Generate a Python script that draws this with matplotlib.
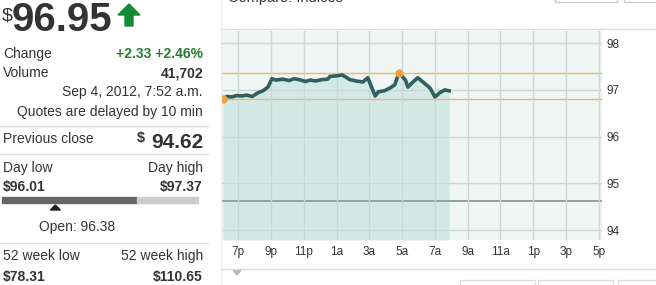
import matplotlib.pyplot as plt
from matplotlib.patches import Polygon, Rectangle
from matplotlib.lines import Line2D
import numpy as np

plt.rcParams['font.family'] = ['Liberation Sans', 'DejaVu Sans']

# quote panel values
last_price = 96.95
change = '+2.33'
change_pct = '+2.46%'
volume = '41,702'
stamp = 'Sep 4, 2012, 7:52 a.m.'
prev_close = 94.62
day_low = 96.01
day_high = 97.37
open_price = 96.38
wk52_low = 78.31
wk52_high = 110.65

# intraday series: hours after midnight Sep 3 (18 = 6p)
times = [18.05, 18.3, 18.6, 18.9, 19.2, 19.5, 19.85, 20.2, 20.5, 20.8, 21.05,
         21.3, 21.7, 22.1, 22.4, 22.7, 23.1, 23.4, 23.7, 24.1, 24.45, 24.6,
         25.0, 25.35, 25.8, 26.2, 26.6, 26.9, 27.35, 27.55, 27.9, 28.25,
         28.55, 28.8, 29.2, 29.35, 29.6, 29.95, 30.2, 30.7, 31.0, 31.3,
         31.6, 31.87]
prices = [96.81, 96.86, 96.85, 96.88, 96.87, 96.89, 96.86, 96.94, 96.98,
          97.06, 97.24, 97.21, 97.23, 97.20, 97.24, 97.22, 97.18, 97.21,
          97.19, 97.22, 97.23, 97.29, 97.30, 97.32, 97.22, 97.19, 97.17,
          97.26, 96.87, 96.96, 96.98, 97.04, 97.11, 97.37, 97.21, 97.06,
          97.15, 97.26, 97.19, 97.04, 96.85, 96.94, 97.00, 96.98]
tick_hours = [19, 21, 23, 25, 27, 29, 31, 33, 35, 37, 39, 41]
tick_labels = ['7p', '9p', '11p', '1a', '3a', '5a', '7a', '9a', '11a', '1p', '3p', '5p']
y_ticks = [94, 95, 96, 97, 98]

W, H = 656, 285
fig = plt.figure(figsize=(W / 100, H / 100), dpi=100)

def fx(px):
    return px / W

def fy(py):
    return 1 - py / H

dark = '#333333'
green = '#2a7d2e'

# ---- left quote panel
fig.text(fx(2), fy(20), '$', fontsize=14, color=dark)
fig.text(fx(12), fy(31), f'{last_price:.2f}', fontsize=29, fontweight='bold', color=dark)
fig.patches.append(Polygon([(fx(129), fy(4)), (fx(140), fy(15)), (fx(133), fy(15)),
                            (fx(133), fy(26)), (fx(125), fy(26)), (fx(125), fy(15)),
                            (fx(118), fy(15))], closed=True, transform=fig.transFigure,
                           color='#138a36'))

fig.text(fx(3), fy(58), 'Change', fontsize=10, color=dark)
fig.text(fx(203), fy(58), f'{change} {change_pct}', fontsize=10, fontweight='bold',
         color=green, ha='right')
fig.text(fx(3), fy(77), 'Volume', fontsize=10, color=dark)
fig.text(fx(203), fy(77), volume, fontsize=10, fontweight='bold', color=dark, ha='right')
fig.text(fx(203), fy(96.5), stamp, fontsize=10, color=dark, ha='right')
fig.text(fx(203), fy(116.5), 'Quotes are delayed by 10 min', fontsize=10, color=dark, ha='right')

for yy in [126, 154, 243]:
    fig.lines.append(Line2D([fx(0), fx(208)], [fy(yy), fy(yy)], transform=fig.transFigure,
                            color='#dddddd', lw=1))

fig.text(fx(3), fy(143), 'Previous close', fontsize=10, color=dark)
fig.text(fx(203), fy(148), f'{prev_close:.2f}', fontsize=15, fontweight='bold', color=dark, ha='right')
fig.text(fx(137), fy(142), '$', fontsize=10.5, fontweight='bold', color=dark)

fig.text(fx(3), fy(172), 'Day low', fontsize=10, color=dark)
fig.text(fx(203), fy(172), 'Day high', fontsize=10, color=dark, ha='right')
fig.text(fx(3), fy(191), f'${day_low:.2f}', fontsize=10, fontweight='bold', color=dark)
fig.text(fx(203), fy(191), f'${day_high:.2f}', fontsize=10, fontweight='bold', color=dark, ha='right')

bar_l, bar_r = 2, 198
frac = (last_price - day_low) / (day_high - day_low)
ofrac = (open_price - day_low) / (day_high - day_low)
bx = bar_l + frac * (bar_r - bar_l)
fig.patches.append(Rectangle((fx(bar_l), fy(203)), fx(bx - bar_l), 6 / H,
                             transform=fig.transFigure, color='#666666'))
fig.patches.append(Rectangle((fx(bx), fy(203)), fx(bar_r - bx), 6 / H,
                             transform=fig.transFigure, color='#cccccc'))
ox = bar_l + ofrac * (bar_r - bar_l)
fig.patches.append(Polygon([(fx(ox), fy(205)), (fx(ox - 5), fy(210)), (fx(ox + 5), fy(210))],
                           closed=True, transform=fig.transFigure, color='#222222'))
fig.text(fx(77), fy(231), f'Open: {open_price:.2f}', fontsize=10, color=dark, ha='center')

fig.text(fx(3), fy(260), '52 week low', fontsize=10, color=dark)
fig.text(fx(203), fy(260), '52 week high', fontsize=10, color=dark, ha='right')
fig.text(fx(3), fy(281), f'${wk52_low:.2f}', fontsize=10, fontweight='bold', color=dark)
fig.text(fx(203), fy(281), f'${wk52_high:.2f}', fontsize=10, fontweight='bold', color=dark, ha='right')

# ---- page chrome around chart
fig.text(fx(228), fy(2), 'Compare: Indices', fontsize=10.5, color=dark)
for yy in [29, 269]:
    fig.lines.append(Line2D([fx(222), fx(656)], [fy(yy), fy(yy)], transform=fig.transFigure,
                            color='#dddddd', lw=1))
fig.lines.append(Line2D([fx(221), fx(221)], [fy(0), fy(285)], transform=fig.transFigure,
                        color='#eeeeee', lw=1))
for x0, x1 in [(555, 617), (624, 670)]:
    fig.patches.append(Rectangle((fx(x0), fy(2)), fx(x1 - x0), 20 / H, transform=fig.transFigure,
                                 fill=False, edgecolor='#cccccc', lw=1))
for x0, x1 in [(460, 535), (538, 613), (618, 670)]:
    fig.patches.append(Rectangle((fx(x0), fy(300)), fx(x1 - x0), 20 / H, transform=fig.transFigure,
                                 fill=False, edgecolor='#dddddd', lw=1))
fig.patches.append(Polygon([(fx(233), fy(270)), (fx(241), fy(270)), (fx(237), fy(275))],
                           closed=True, transform=fig.transFigure, color='#b0b8bc'))

# ---- chart
ax = fig.add_axes([fx(222), fy(240), fx(602) - fx(222), (240 - 31) / H])
ax.set_facecolor('#eef5f2')
ymin, ymax = 93.79, 98.26
ax.set_xlim(18, 41.2)
ax.set_ylim(ymin, ymax)

ax.fill_between(times, prices, ymin, color='#d3e9e6', lw=0, zorder=1)
ax.set_xticks(tick_hours)
ax.set_xticklabels(tick_labels)
ax.set_yticks(y_ticks)
ax.yaxis.tick_right()
ax.grid(True, color='#c9d8d5', lw=1, zorder=1.5)
ax.set_axisbelow(False)
for g in ax.get_xgridlines() + ax.get_ygridlines():
    g.set_zorder(1.5)
ax.tick_params(length=0, labelsize=8.5, colors=dark)
ax.tick_params(axis='y', pad=3)
ax.tick_params(axis='x', pad=4)
for s in ax.spines.values():
    s.set_visible(False)

pmax, pmin = max(prices), min(prices)
ax.axhline(pmax, color='#f2b56b', lw=1, zorder=2)
ax.axhline(pmin, color='#f2b56b', lw=1, zorder=2)
ax.axhline(prev_close, color='#8c9c99', lw=1.3, zorder=2)
ax.plot(times, prices, color='#2f5f5e', lw=2.6, zorder=3)
imax, imin = prices.index(pmax), prices.index(pmin)
ax.plot([times[imax], times[imin]], [pmax, pmin], 'o', color='#f0a040', ms=5, zorder=4)

fig.savefig('out.png', dpi=100)
